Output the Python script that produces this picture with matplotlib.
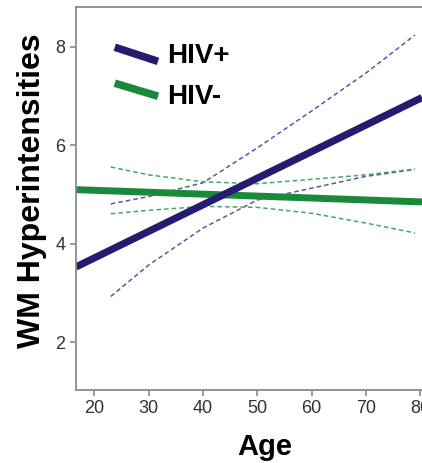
import matplotlib
matplotlib.use('Agg')
import matplotlib.pyplot as plt

plt.rcParams['font.family'] = ['Liberation Sans', 'DejaVu Sans']

# fitted lines (ends of the axis range)
fit_age = [16.6, 80.3]
hivpos_fit = [3.53, 6.97]
hivneg_fit = [5.10, 4.85]

# confidence bands
ci_age = [23, 30, 40, 50, 60, 70, 79]
hivpos_hi = [4.81, 4.96, 5.24, 5.95, 6.70, 7.47, 8.24]
hivpos_lo = [2.93, 3.57, 4.32, 4.89, 5.13, 5.37, 5.51]
hivneg_hi = [5.56, 5.40, 5.26, 5.22, 5.31, 5.40, 5.52]
hivneg_lo = [4.61, 4.68, 4.76, 4.74, 4.62, 4.42, 4.22]

labels = ['HIV+', 'HIV-']
navy = '#241c70'
green = '#1a8a3a'
navy_light = '#5b56a8'
green_light = '#44a864'

fig = plt.figure(figsize=(4.22, 4.63), dpi=100)
ax = fig.add_axes([76/422, 1 - 390/463, 1 - 76/422, (390 - 7)/463])

ax.plot(ci_age, hivpos_hi, color=navy_light, lw=1.1, dashes=(3, 2))
ax.plot(ci_age, hivpos_lo, color=navy_light, lw=1.1, dashes=(3, 2))
ax.plot(ci_age, hivneg_hi, color=green_light, lw=1.1, dashes=(3, 2))
ax.plot(ci_age, hivneg_lo, color=green_light, lw=1.1, dashes=(3, 2))

ax.plot(fit_age, hivneg_fit, color=green, lw=5, solid_capstyle='butt')
ax.plot(fit_age, hivpos_fit, color=navy, lw=5.2, solid_capstyle='butt')

# slanted legend handles
ax.plot([0.112, 0.237], [0.895, 0.858], transform=ax.transAxes, color=navy, lw=5.5, solid_capstyle='butt')
ax.plot([0.112, 0.237], [0.801, 0.767], transform=ax.transAxes, color=green, lw=5.5, solid_capstyle='butt')
ax.text(0.263, 0.873, labels[0], transform=ax.transAxes, fontsize=20, fontweight='bold', va='center', ha='left')
ax.text(0.263, 0.765, labels[1], transform=ax.transAxes, fontsize=20, fontweight='bold', va='center', ha='left')

ax.set_xlim(16.6, 80.3)
ax.set_ylim(1.03, 8.81)
ax.set_xticks([20, 30, 40, 50, 60, 70, 80])
ax.set_yticks([2, 4, 6, 8])

ax.spines['right'].set_visible(False)
for s in ['left', 'bottom', 'top']:
    ax.spines[s].set_color('#8a8a8a')
    ax.spines[s].set_linewidth(1.3)
ax.tick_params(colors='#333333', labelsize=13, length=4, width=1.2)
ax.tick_params(axis='both', color='#8a8a8a')

ax.set_xlabel('Age', fontsize=21, fontweight='bold')
ax.xaxis.set_label_coords(0.546, -0.112)
ax.set_ylabel('WM Hyperintensities', fontsize=23, fontweight='bold')
ax.yaxis.set_label_coords(-0.085, 0.52)

fig.savefig('out.png', dpi=100)
